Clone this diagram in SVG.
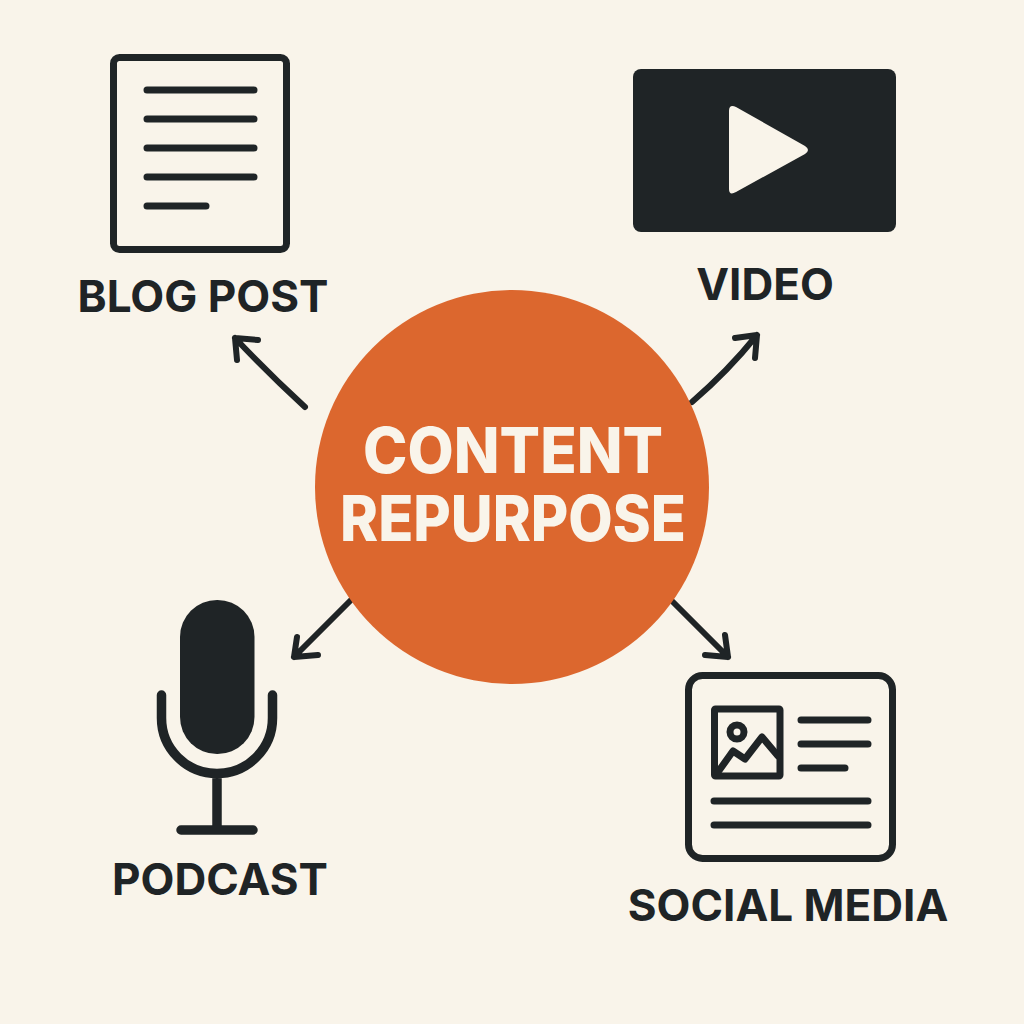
<svg xmlns="http://www.w3.org/2000/svg" width="1024" height="1024" viewBox="0 0 1024 1024">
<style>
.ln{fill:none;stroke:#1f2426;stroke-width:7;stroke-linecap:round;stroke-linejoin:round}
.th{fill:none;stroke:#1f2426;stroke-width:9.5;stroke-linecap:round;stroke-linejoin:round}
.ar{fill:none;stroke:#1f2426;stroke-width:6;stroke-linecap:round;stroke-linejoin:round}
.lb{font-family:"Inter","Liberation Sans",sans-serif;font-weight:700;font-size:44px;fill:#1f2426;text-anchor:middle}
.hub{font-family:"Inter","Liberation Sans",sans-serif;font-weight:800;font-size:63px;fill:#f9f4ea;text-anchor:middle}
</style>
<rect width="1024" height="1024" fill="#f9f4ea"/>
<g id="connectors">
<path class="ar" d="M305 407Q268 373 235 338M237 360L235 338L258 340"/>
<path class="ar" d="M692 402Q728 371 757 335M735 338L757 335L755 358"/>
<path class="ar" d="M351 600L294 657M297 637L294 657L318 655"/>
<path class="ar" d="M673 602L728 657M705 655L728 657L725 635"/>
</g>
<g id="blog"><rect class="ln" x="113.500" y="57.500" width="173" height="192" rx="6"/><path class="ln" d="M147 90H254M147 119H254M147 148H254M147 177H254M147 206H206"/><text class="lb" x="203" y="312" textLength="251" lengthAdjust="spacingAndGlyphs">BLOG POST</text></g>
<g id="video"><rect x="633" y="69" width="263" height="163" rx="8" fill="#1f2426"/><path d="M729 111Q729 104 736 107L805 146Q811 150 805 154L736 192Q729 196 729 189Z" fill="#f9f4ea"/><text class="lb" x="765" y="300">VIDEO</text></g>
<g id="hub"><circle cx="512" cy="487" r="197" fill="#dc672e"/><text class="hub" x="513" y="473" textLength="300" lengthAdjust="spacingAndGlyphs">CONTENT</text><text class="hub" x="513" y="541" textLength="346" lengthAdjust="spacingAndGlyphs">REPURPOSE</text></g>
<g id="podcast"><rect x="180" y="600" width="74.500" height="154" rx="37" fill="#1f2426"/><path class="th" d="M161.500 695V718A55.500 55.500 0 0 0 272.500 718V695M217 774V830M181 830H253"/><text class="lb" x="220" y="895">PODCAST</text></g>
<g id="social"><rect class="ln" x="688.500" y="675.500" width="204" height="183" rx="14"/><rect class="ln" x="714.500" y="709" width="65.500" height="67" rx="1"/><circle class="ln" cx="737" cy="732" r="7"/><path class="ln" d="M718 772L733 751L745 759L762 737L778 756M801 720H868M801 744H868M801 768H845M714 801H868M714 825H868"/><text class="lb" x="788" y="921">SOCIAL MEDIA</text></g>
</svg>
